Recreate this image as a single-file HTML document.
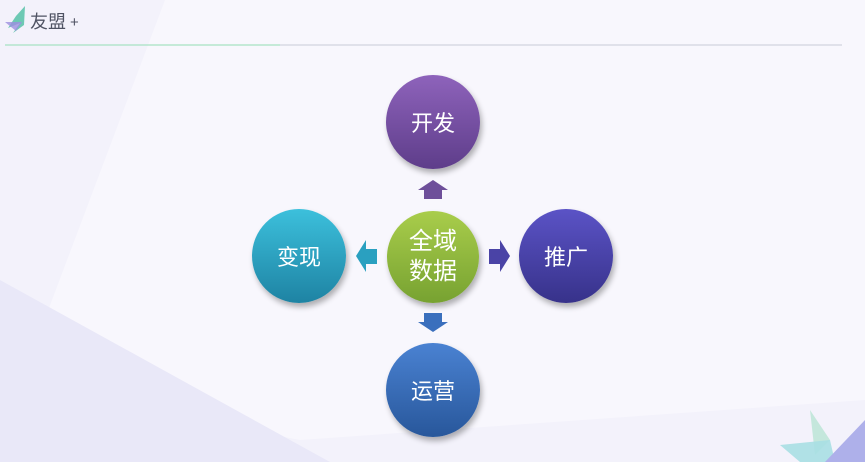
<!DOCTYPE html>
<html><head><meta charset="utf-8"><style>
body{margin:0;width:865px;height:462px;overflow:hidden;background:#f3f2fb;font-family:"Liberation Sans","Noto Sans CJK SC",sans-serif;position:relative}
.c{position:absolute;border-radius:50%;color:#fff;display:flex;align-items:center;justify-content:center;text-align:center;box-shadow:2px 4px 6px rgba(0,0,0,.3);font-size:22px}
</style></head><body>
<svg width="865" height="462" style="position:absolute;left:0;top:0">
<polygon points="165,0 865,0 865,400 300,440 20,385" fill="#f8f7fd"/>
<polygon points="0,280 330,462 0,462" fill="#e9e8f8"/>
<polygon points="810,410 830,440 815,455" fill="#bfe6d8" opacity=".9"/>
<polygon points="780,445 830,440 835,462 800,462" fill="#a8dfe3" opacity=".9"/>
<polygon points="865,420 865,462 825,462" fill="#aeb0ea"/>
<line x1="5" y1="45" x2="842" y2="45" stroke="#c9cbd6" stroke-width="1"/>
<line x1="5" y1="45" x2="280" y2="45" stroke="#a6e3c2" stroke-width="1.2"/>
<polygon points="25,6 16,16 8,28 20,23 13,33 24,25" fill="#6dc9b4"/>
<polygon points="5,22 22,22 16,31" fill="#9c8fe0" opacity=".8"/>
<text x="30" y="28" font-size="18" fill="#4f5363" font-family="Liberation Sans, Noto Sans CJK SC, sans-serif">友盟</text>
<text x="70" y="27" font-size="15" fill="#4f5363">+</text>
<polygon points="418,190 433,180 448,190 442,190 442,199 424,199 424,190" fill="#6e4f9a"/>
<polygon points="424,313 442,313 442,322 448,322 433,332 418,322 424,322" fill="#3a6fbd"/>
<polygon points="356,256 366,240 366,249 377,249 377,264 366,264 366,272" fill="#2aa0c0"/>
<polygon points="510,256 500,240 500,249 489,249 489,264 500,264 500,272" fill="#4a43a6"/>
</svg>
<div class="c" style="left:386px;top:75px;width:94px;height:94px;background:linear-gradient(#8e63bb,#5e3d8a)">开发</div>
<div class="c" style="left:252px;top:209px;width:94px;height:94px;background:linear-gradient(#3cc0dc,#1e83a3)">变现</div>
<div class="c" style="left:519px;top:209px;width:94px;height:94px;background:linear-gradient(#5b53c6,#37328a)">推广</div>
<div class="c" style="left:386px;top:343px;width:94px;height:94px;background:linear-gradient(#4a82d2,#28579b)">运营</div>
<div class="c" style="left:387px;top:211px;width:92px;height:92px;background:linear-gradient(#a9cd4b,#77a231);line-height:30px;font-size:24px">全域<br>数据</div>
</body></html>
